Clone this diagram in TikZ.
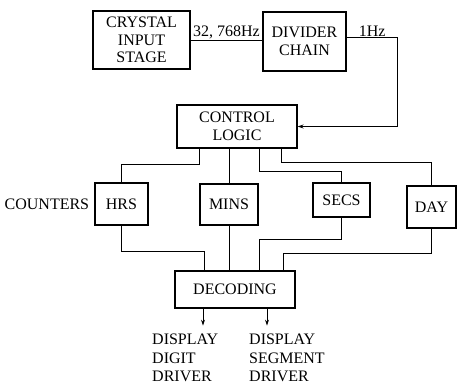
\documentclass[tikz,border=0pt]{standalone}
\usepackage{fontspec}
\setmainfont{Liberation Serif}
\usetikzlibrary{arrows.meta, positioning}

\begin{document}
\begin{tikzpicture}[
  x=1pt, y=-1pt,
  >={Stealth[length=6pt, width=4pt]},
  blk/.style={draw=black, line width=1.3pt, inner sep=0pt, align=center,
    font=\fontsize{16}{17.5}\selectfont},
  lbl/.style={font=\fontsize{16}{17.5}\selectfont, inner sep=1pt},
  txt/.style={font=\fontsize{16}{18.5}\selectfont, align=left, inner sep=0pt},
  wire/.style={line width=1pt}
]
\useasboundingbox (0,0) rectangle (465,388);

% ---- Clock source ----
\node[blk, minimum width=97pt, minimum height=58pt] (crys) at (141.5,40) {CRYSTAL\\INPUT\\STAGE};
\node[blk, minimum width=83pt, minimum height=59pt] (div) at (304.5,41.5) {DIVIDER\\CHAIN};

\draw[wire] (crys.east) -- (crys.east -| div.west)
  node[lbl, midway, above] {32, 768Hz};

% ---- Control ----
\node[blk, minimum width=120pt, minimum height=43pt] (ctrl) at (237,126.5) {CONTROL\\LOGIC};

\draw[wire, ->] ([yshift=4pt]div.east) -- ++(51,0) node[lbl, pos=0.5, above] {1Hz}
  |- (ctrl.east);

% ---- Counters ----
\node[blk, minimum width=53pt, minimum height=42pt] (hrs) at (121.5,204) {HRS};
\node[blk, minimum width=58pt, minimum height=41pt] (mins) at (229,204.5) {MINS};
\node[blk, minimum width=57pt, minimum height=34pt] (secs) at (341.5,200) {SECS};
\node[blk, minimum width=49pt, minimum height=42pt] (day) at (431.5,207) {DAY};
\node[lbl, left=4pt of hrs] (cnt) {COUNTERS};

\draw[wire] ([xshift=-38pt]ctrl.south) -- ++(0,16) -| (hrs.north);
\draw[wire] (mins.north) -- (mins.north |- ctrl.south);
\draw[wire] ([xshift=22pt]ctrl.south) -- ++(0,23) -| (secs.north);
\draw[wire] ([xshift=44pt]ctrl.south) -- ++(0,14) -| (day.north);

% ---- Decoding ----
\node[blk, minimum width=120pt, minimum height=37pt] (dec) at (235,289.5) {DECODING};

\draw[wire] (hrs.south) -- ++(0,26) -| ([xshift=-31pt]dec.north);
\draw[wire] (mins.south) -- (mins.south |- dec.north);
\draw[wire] (secs.south) -- ++(0,22) -| ([xshift=24pt]dec.north);
\draw[wire] (day.south) -- ++(0,25) -| ([xshift=48pt]dec.north);

% ---- Drivers ----
\draw[wire, ->] ([xshift=-32pt]dec.south) -- ++(0,17);
\draw[wire, ->] ([xshift=32pt]dec.south) -- ++(0,17);

\node[txt, anchor=north west] (drvdigit) at (152,334) {DISPLAY\\DIGIT\\DRIVER};
\node[txt, anchor=north west] (drvseg) at (249,334) {DISPLAY\\SEGMENT\\DRIVER};

\end{tikzpicture}
\end{document}
